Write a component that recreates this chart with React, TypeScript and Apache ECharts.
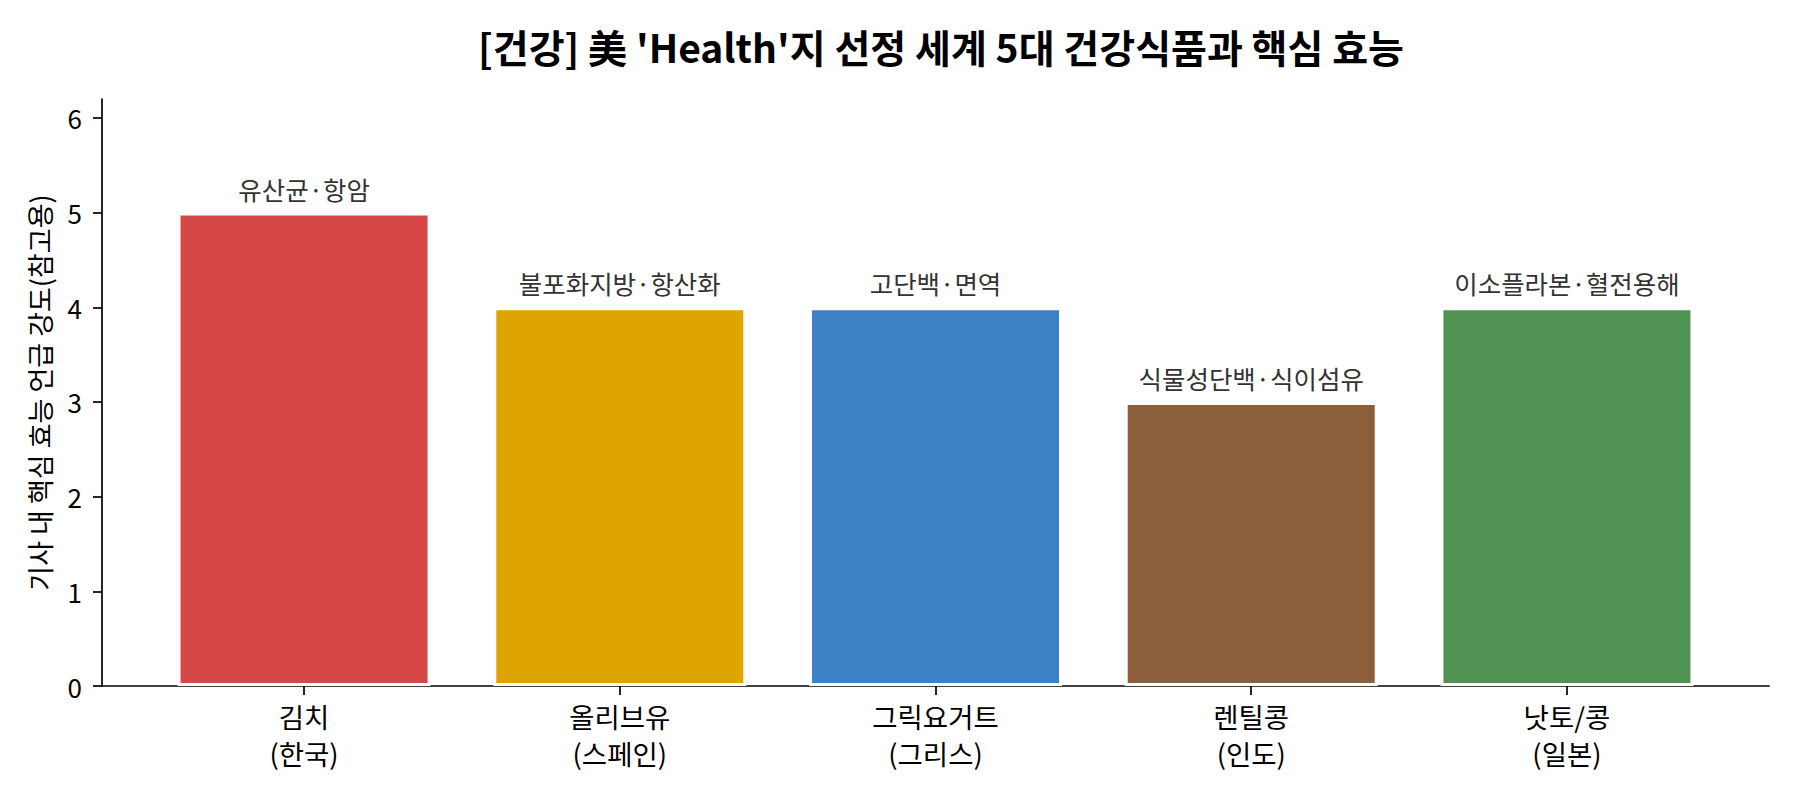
import React, { useEffect, useRef } from "react";
import * as echarts from "echarts";

const categories = ["김치\n(한국)", "올리브유\n(스페인)", "그릭요거트\n(그리스)", "렌틸콩\n(인도)", "낫토/콩\n(일본)"];
const values = [5, 4, 4, 3, 4];
const effects = ["유산균·항암", "불포화지방·항산화", "고단백·면역", "식물성단백·식이섬유", "이소플라본·혈전용해"];
const colors = ["#D64747", "#DEA500", "#3D82C4", "#8B5E3C", "#509252"];
const yTicks = [0, 1, 2, 3, 4, 5, 6];
const xTicks = [0, 1, 2, 3, 4];

const FONT = '"Noto Sans CJK KR", "Noto Sans", sans-serif';

export default function App() {
  const ref = useRef<HTMLDivElement>(null);
  useEffect(() => {
    document.body.style.margin = "0";
    const chart = echarts.init(ref.current!, null, { renderer: "svg" });
    chart.setOption({
      animation: false,
      backgroundColor: "#ffffff",
      textStyle: { fontFamily: FONT },
      title: {
        text: "[건강] 美 'Health'지 선정 세계 5대 건강식품과 핵심 효능",
        left: 936,
        top: 17,
        textAlign: "center",
        textStyle: { fontFamily: FONT, fontSize: 39, fontWeight: "bold", color: "#000", lineHeight: 47 },
      },
      grid: { left: 102, right: 31, top: 99, bottom: 114, containLabel: false },
      xAxis: {
        type: "value",
        min: -0.64,
        max: 4.64,
        splitLine: { show: false },
        axisLine: { show: true, onZero: false, lineStyle: { color: "#000", width: 1.7 } },
        axisTick: { show: true, customValues: xTicks, length: 9, lineStyle: { color: "#000", width: 1.7 } },
        axisLabel: {
          customValues: xTicks,
          formatter: (v: number) => categories[Math.round(v)] ?? "",
          margin: 11,
          fontFamily: FONT,
          fontSize: 27.5,
          lineHeight: 37,
          color: "#000",
        },
      },
      yAxis: {
        type: "value",
        min: 0,
        max: 6.2,
        name: "기사 내 핵심 효능 언급 강도(참고용)",
        nameLocation: "middle",
        nameGap: 49,
        nameRotate: 90,
        nameTextStyle: { fontFamily: FONT, fontSize: 27, color: "#000" },
        splitLine: { show: false },
        axisLine: { show: true, onZero: false, lineStyle: { color: "#000", width: 1.7 } },
        axisTick: { show: true, customValues: yTicks, length: 9, lineStyle: { color: "#000", width: 1.7 } },
        axisLabel: { customValues: yTicks, margin: 20, fontFamily: FONT, fontSize: 26, color: "#000" },
      },
      series: [
        {
          type: "bar",
          barWidth: 253,
          data: values.map((v, i) => ({
            value: [i, v],
            itemStyle: { color: colors[i], borderColor: "#ffffff", borderWidth: 3 },
          })),
          label: {
            show: true,
            position: "top",
            distance: 10,
            formatter: (p: any) => effects[p.dataIndex],
            fontFamily: FONT,
            fontSize: 25.5,
            lineHeight: 29,
            color: "#333",
          },
        },
      ],
    });
    return () => chart.dispose();
  }, []);
  return <div ref={ref} style={{ width: 1800, height: 800 }} />;
}
